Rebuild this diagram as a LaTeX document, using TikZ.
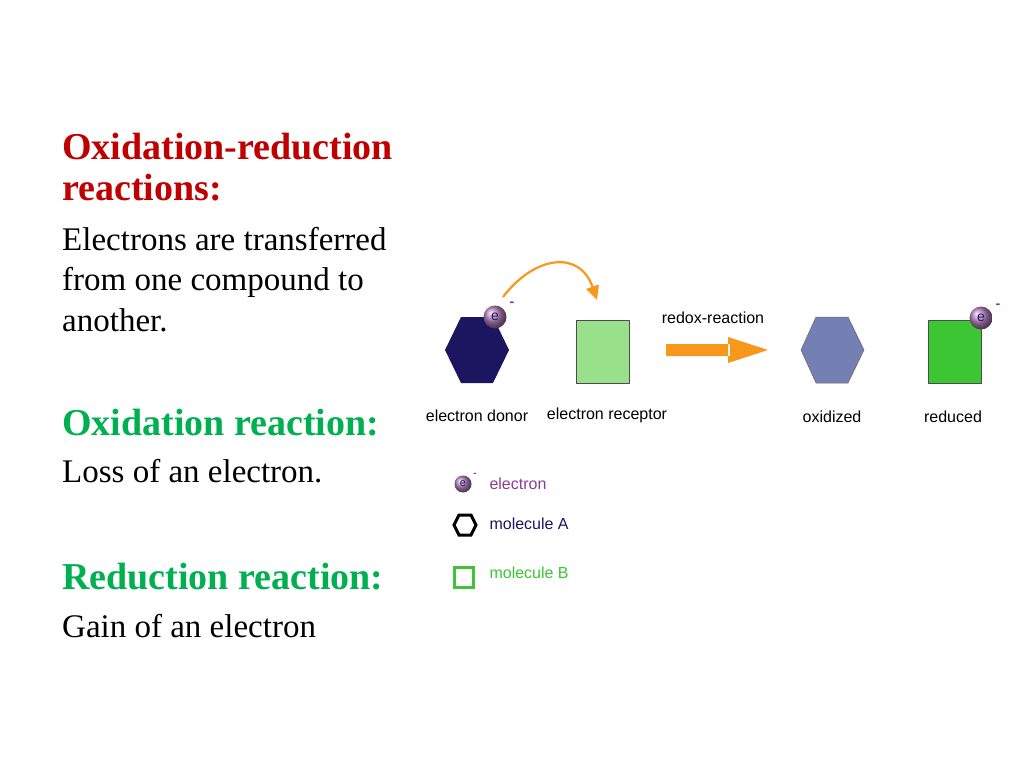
\documentclass[tikz,border=0pt]{standalone}
\usepackage{fontspec}
\usetikzlibrary{arrows.meta}
\setmainfont{Liberation Serif}
\newfontfamily\lsans{Liberation Sans}
\definecolor{red1}{HTML}{C00000}
\definecolor{grn1}{HTML}{00B050}
\definecolor{org}{HTML}{F7971C}
\definecolor{navy}{HTML}{1C1660}
\definecolor{lgrn}{HTML}{98E08A}
\definecolor{dgrn}{HTML}{3CC634}
\definecolor{slate}{HTML}{7480B4}
\definecolor{purp}{HTML}{8B3C99}
\begin{document}
\begin{tikzpicture}[x=1pt,y=-1pt,
  head/.style={anchor=base west,inner sep=0pt,font=\fontsize{38}{44}\selectfont\bfseries},
  body/.style={anchor=base west,inner sep=0pt,font=\fontsize{33}{38}\selectfont},
  lbl/.style={font=\lsans\fontsize{16}{18}\selectfont},
  elec/.style={circle,minimum size=#1,inner sep=0pt,ball color=purp!65!white,font=\lsans\fontsize{14}{15}\selectfont,text=navy}]
\useasboundingbox (0,0) rectangle (1024,768);
\node[head,text=red1] (t1) at (62,159) {Oxidation-reduction};
\node[head,text=red1] (t2) at (62,200) {reactions:};
\node[body] (t3) at (62,250) {Electrons are transferred};
\node[body] (t4) at (62,290) {from one compound to};
\node[body] (t5) at (62,331) {another.};
\node[head,text=grn1] (t6) at (62,435) {Oxidation reaction:};
\node[body] (t7) at (62,482) {Loss of an electron.};
\node[head,text=grn1] (t8) at (62,589) {Reduction reaction:};
\node[body] (t9) at (62,637) {Gain of an electron};
% donor
\fill[navy] (445,350)--(461,317)--(493,317)--(509,350)--(493,383)--(461,383)--cycle;
\node[elec=23pt] (e1) at (495,317) {e};
\node[font=\lsans\bfseries\Large,text=purp] (m1) at (512,304) {-};
\fill[lgrn,draw=black!70,line width=0.5pt] (576,320) rectangle (629,383);
\coordinate (cs) at (503,297);
\coordinate (ce) at (597,300);
\draw[org,line width=2.2pt,-{Triangle[width=13pt,length=14pt]}] (cs) .. controls (535,255) and (580,250) .. (ce);
\node[lbl] (rr) at (713,318) {redox-reaction};
\fill[org] (666,344) rectangle (730,356) (728,337)--(768,350)--(728,363)--cycle;
\fill[slate,draw=black!60,line width=0.5pt] (801,350)--(816,317)--(848,317)--(864,350)--(848,383)--(816,383)--cycle;
\fill[dgrn,draw=black!70,line width=0.5pt] (928,320) rectangle (981,383);
\node[elec=23pt] (e2) at (981,318) {e};
\node[font=\lsans\bfseries\Large,text=purp] (m2) at (998,306) {-};
\node[lbl] (l1) at (477,416) {electron donor};
\node[lbl] (l2) at (607,415) {electron receptor};
\node[lbl] (l3) at (832,417) {oxidized};
\node[lbl] (l4) at (953,417) {reduced};
% legend
\node[elec=17pt,font=\lsans\fontsize{11}{12}\selectfont] (e3) at (463,484) {e};
\node[font=\lsans\bfseries,text=purp] (m3) at (475,475) {-};
\node[lbl,anchor=west,text=purp] (g1) at (486,484) {electron};
\draw[black,line width=3pt] (454,525)--(459,515)--(471,515)--(476,525)--(471,535)--(459,535)--cycle;
\node[lbl,anchor=west,text=navy] (g2) at (486,524) {molecule A};
\draw[dgrn,line width=3pt] (454,567) rectangle (473,587);
\node[lbl,anchor=west,text=dgrn] (g3) at (486,573) {molecule B};
\end{tikzpicture}
\end{document}
